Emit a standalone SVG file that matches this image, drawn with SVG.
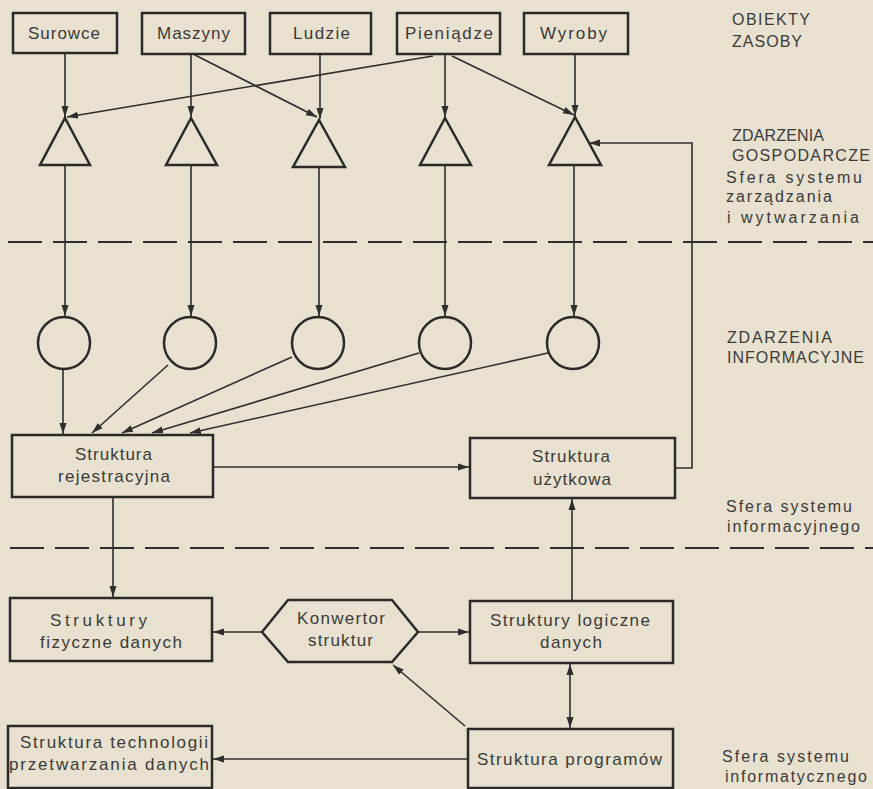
<svg xmlns="http://www.w3.org/2000/svg" width="873" height="789" viewBox="0 0 873 789">
<style>
.box{fill:none;stroke:#2a2a2a;stroke-width:2.5}
.shape{fill:none;stroke:#2a2a2a;stroke-width:2.5}
.ln{fill:none;stroke:#2e2e2e;stroke-width:1.6}
.dash{fill:none;stroke:#2e2e2e;stroke-width:2;stroke-dasharray:34 11}
text{font-family:"Liberation Sans",Arial,sans-serif;font-size:17px;fill:#3a3a3a}
.lab{font-size:16px}
</style>
<defs>
<marker id="ah" markerUnits="userSpaceOnUse" markerWidth="12" markerHeight="8" refX="11" refY="4" orient="auto">
<path d="M0,0.5 L11,4 L0,7.5 z" fill="#2e2e2e"/>
</marker>
<marker id="as" markerUnits="userSpaceOnUse" markerWidth="12" markerHeight="8" refX="1" refY="4" orient="auto">
<path d="M12,0.5 L1,4 L12,7.5 z" fill="#2e2e2e"/>
</marker>
</defs>
<rect width="873" height="789" fill="#e8e1cf"/>

<g id="separators">
<line class="dash" x1="8" y1="242" x2="873" y2="242"/>
<line class="dash" x1="10" y1="548" x2="873" y2="548"/>
</g>

<g id="connectors">
<line class="ln" x1="65" y1="53" x2="65" y2="117" marker-end="url(#ah)"/>
<line class="ln" x1="191" y1="54" x2="191" y2="117" marker-end="url(#ah)"/>
<line class="ln" x1="320" y1="54" x2="320" y2="119" marker-end="url(#ah)"/>
<line class="ln" x1="445" y1="54" x2="445" y2="117" marker-end="url(#ah)"/>
<line class="ln" x1="575" y1="54" x2="575" y2="116" marker-end="url(#ah)"/>
<line class="ln" x1="195" y1="55" x2="317" y2="117" marker-end="url(#ah)"/>
<line class="ln" x1="433" y1="56" x2="67" y2="117" marker-end="url(#ah)"/>
<line class="ln" x1="452" y1="56" x2="574" y2="115" marker-end="url(#ah)"/>
<line class="ln" x1="65" y1="165" x2="65" y2="316" marker-end="url(#ah)"/>
<line class="ln" x1="191" y1="165" x2="191" y2="316" marker-end="url(#ah)"/>
<line class="ln" x1="319" y1="167" x2="319" y2="316" marker-end="url(#ah)"/>
<line class="ln" x1="445" y1="165" x2="445" y2="316" marker-end="url(#ah)"/>
<line class="ln" x1="574" y1="165" x2="574" y2="316" marker-end="url(#ah)"/>
<line class="ln" x1="63" y1="369" x2="63" y2="434" marker-end="url(#ah)"/>
<line class="ln" x1="168" y1="365" x2="92" y2="433" marker-end="url(#ah)"/>
<line class="ln" x1="292" y1="357" x2="122" y2="433" marker-end="url(#ah)"/>
<line class="ln" x1="419" y1="353" x2="152" y2="433" marker-end="url(#ah)"/>
<line class="ln" x1="548" y1="353" x2="190" y2="433" marker-end="url(#ah)"/>
<line class="ln" x1="213" y1="467" x2="469" y2="467" marker-end="url(#ah)"/>
<polyline class="ln" points="675,468 692,468 692,143 589,143" marker-end="url(#ah)"/>
<line class="ln" x1="113" y1="497" x2="113" y2="597" marker-end="url(#ah)"/>
<line class="ln" x1="572" y1="601" x2="572" y2="499" marker-end="url(#ah)"/>
<line class="ln" x1="262" y1="632" x2="213" y2="632" marker-end="url(#ah)"/>
<line class="ln" x1="418" y1="632" x2="469" y2="632" marker-end="url(#ah)"/>
<line class="ln" x1="570" y1="664" x2="570" y2="728" marker-start="url(#as)" marker-end="url(#ah)"/>
<line class="ln" x1="465" y1="726" x2="393" y2="665" marker-end="url(#ah)"/>
<line class="ln" x1="468" y1="759" x2="213" y2="759" marker-end="url(#ah)"/>
</g>

<g id="surowce"><rect class="box" x="13" y="13" width="104" height="40"/><text x="28" y="39" textLength="72">Surowce</text></g>
<g id="maszyny"><rect class="box" x="142" y="13" width="103" height="41"/><text x="157" y="39" textLength="73">Maszyny</text></g>
<g id="ludzie"><rect class="box" x="270" y="13" width="101" height="41"/><text x="293" y="39" textLength="57">Ludzie</text></g>
<g id="pieniadze"><rect class="box" x="397" y="13" width="103" height="41"/><text x="405" y="39" textLength="88">Pieniądze</text></g>
<g id="wyroby"><rect class="box" x="524" y="13" width="104" height="41"/><text x="540" y="39" textLength="67">Wyroby</text></g>

<g id="zg1"><polygon class="shape" points="65,118 90,165 40,165"/></g>
<g id="zg2"><polygon class="shape" points="191,118 217,165 166,165"/></g>
<g id="zg3"><polygon class="shape" points="319,120 345,167 293,167"/></g>
<g id="zg4"><polygon class="shape" points="445,118 471,165 420,165"/></g>
<g id="zg5"><polygon class="shape" points="575,117 601,165 549,165"/></g>

<g id="zi1"><circle class="shape" cx="64" cy="343" r="26"/></g>
<g id="zi2"><circle class="shape" cx="190" cy="343" r="26"/></g>
<g id="zi3"><circle class="shape" cx="318" cy="343" r="26"/></g>
<g id="zi4"><circle class="shape" cx="445" cy="343" r="26"/></g>
<g id="zi5"><circle class="shape" cx="573" cy="343" r="26"/></g>

<g id="rejestracyjna"><rect class="box" x="12" y="435" width="201" height="62"/><text x="75" y="460" textLength="77">Struktura</text><text x="58" y="482" textLength="112">rejestracyjna</text></g>
<g id="uzytkowa"><rect class="box" x="470" y="438" width="205" height="60"/><text x="532" y="462" textLength="78">Struktura</text><text x="533" y="485" textLength="78">użytkowa</text></g>
<g id="fizyczne"><rect class="box" x="10" y="598" width="202" height="63"/><text x="50" y="626" textLength="97">Struktury</text><text x="40" y="648" textLength="142">fizyczne  danych</text></g>
<g id="konwertor"><polygon class="shape" points="262,632 288,600 392,600 418,632 392,662 288,662"/><text x="297" y="624" textLength="88">Konwertor</text><text x="308" y="646" textLength="65">struktur</text></g>
<g id="logiczne"><rect class="box" x="470" y="601" width="203" height="62"/><text x="490" y="626" textLength="160">Struktury  logiczne</text><text x="540" y="648" textLength="62">danych</text></g>
<g id="technologii"><rect class="box" x="8" y="726" width="204" height="62"/><text x="20" y="748" textLength="188">Struktura  technologii</text><text x="9" y="770" textLength="200">przetwarzania  danych</text></g>
<g id="programow"><rect class="box" x="468" y="729" width="205" height="59"/><text x="477" y="765" textLength="185">Struktura  programów</text></g>

<g id="labels">
<text class="lab" x="732" y="25" textLength="78">OBIEKTY</text>
<text class="lab" x="732" y="47" textLength="70">ZASOBY</text>
<text class="lab" x="732" y="141" textLength="92">ZDARZENIA</text>
<text class="lab" x="732" y="161" textLength="138">GOSPODARCZE</text>
<text class="lab" x="726" y="183" textLength="136">Sfera  systemu</text>
<text class="lab" x="726" y="202" textLength="106">zarządzania</text>
<text class="lab" x="727" y="223" textLength="132">i wytwarzania</text>
<text class="lab" x="727" y="343" textLength="105">ZDARZENIA</text>
<text class="lab" x="727" y="363" textLength="137">INFORMACYJNE</text>
<text class="lab" x="726" y="512" textLength="126">Sfera  systemu</text>
<text class="lab" x="727" y="532" textLength="133">informacyjnego</text>
<text class="lab" x="722" y="762" textLength="127">Sfera  systemu</text>
<text class="lab" x="725" y="782" textLength="142">informatycznego</text>
</g>
</svg>
